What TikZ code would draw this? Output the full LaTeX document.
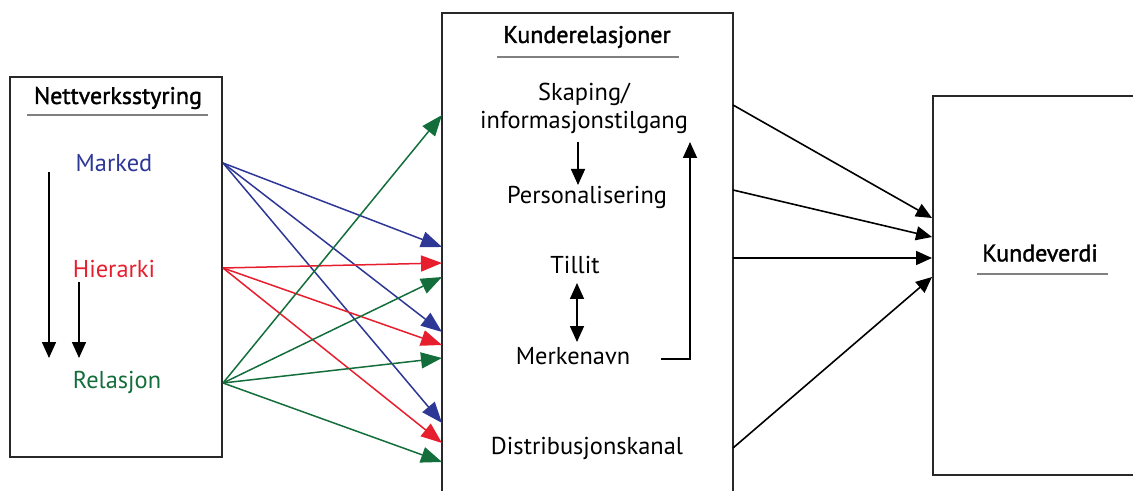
\documentclass[tikz,border=0pt]{standalone}
\usepackage{fontspec}
\setmainfont{PT Sans}
\usetikzlibrary{arrows.meta}
\definecolor{cblue}{RGB}{45,55,150}
\definecolor{cred}{RGB}{230,30,45}
\definecolor{cgreen}{RGB}{20,110,60}
\definecolor{cline}{RGB}{40,40,40}
\begin{document}
\begin{tikzpicture}[x=0.5pt,y=-0.5pt,
  txt/.style={inner sep=0pt,font=\fontsize{12.2}{14}\selectfont},
  ttl/.style={inner sep=0pt,font=\fontsize{12}{14}\selectfont\addfontfeature{FakeBold=1.5}},
  uline/.style={draw=gray,line width=0.8pt},
  boxline/.style={draw=cline,line width=1pt},
  conn/.style={line width=0.75pt,-{Triangle[length=10.5pt,width=8pt]}},
  blk/.style={line width=0.8pt,-{Triangle[length=8pt,width=7pt]}},
  blk2/.style={line width=0.8pt,{Triangle[length=8pt,width=7pt]}-{Triangle[length=8pt,width=7pt]}}]
\useasboundingbox (0,0) rectangle (1133,491);
% left box
\draw[boxline] (10,77) rectangle (222,457);
\node[ttl] (nt) at (118,98) {Nettverksstyring};
\draw[uline] (27,115) -- (208,115);
\node[txt,text=cblue] (mk) at (114,163) {Marked};
\node[txt,text=cred] (hi) at (114,269) {Hierarki};
\node[txt,text=cgreen] (re) at (117,382) {Relasjon};
\coordinate (la1) at (49,172);
\coordinate (la2) at (49,358);
\coordinate (lb1) at (79,282);
\coordinate (lb2) at (79,358);
\draw[blk] (la1) -- (la2);
\draw[blk] (lb1) -- (lb2);
% middle box
\draw[boxline] (442,500) -- (442,13) -- (733,13) -- (733,500);
\node[ttl] (kr) at (587,37) {Kunderelasjoner};
\draw[uline] (497,57) -- (679,57);
\node[txt,align=center] (sk) at (584,108) {Skaping/\\[0pt]informasjonstilgang};
\node[txt] (pe) at (587,197) {Personalisering};
\node[txt] (ti) at (575,265) {Tillit};
\node[txt] (me) at (573,356) {Merkenavn};
\node[txt] (di) at (587,448) {Distribusjonskanal};
\coordinate (d1) at (578,142);
\coordinate (d2) at (578,185);
\draw[blk] (d1) -- (d2);
\coordinate (t1) at (577,283);
\coordinate (t2) at (577,342);
\draw[blk2] (t1) -- (t2);
\coordinate (mr) at (661,359);
\coordinate (mc) at (690,359);
\coordinate (mt) at (690,142);
\draw[blk] (mr) -- (mc) -- (mt);
% connectors left -> middle
\coordinate (ms) at (223,163);
\coordinate (hs) at (223,268);
\coordinate (rs) at (223,383);
\foreach \y in {247,332,423} \draw[conn,cblue] (ms) -- (442,\y);
\foreach \y in {263,345,443} \draw[conn,cred] (hs) -- (442,\y);
\foreach \y in {115,277,358,462} \draw[conn,cgreen] (rs) -- (442,\y);
% right box
\draw[boxline] (1140,96) -- (933,96) -- (933,475) -- (1140,475);
\node[ttl] (kv) at (1040,253) {Kundeverdi};
\draw[uline] (977,274) -- (1108,274);
\coordinate (r1) at (733,105);
\coordinate (r2) at (733,190);
\coordinate (r3) at (733,258);
\coordinate (r4) at (733,448);
\draw[blk] (r1) -- (932,218);
\draw[blk] (r2) -- (932,237);
\draw[blk] (r3) -- (932,258);
\draw[blk] (r4) -- (932,277);
\end{tikzpicture}
\end{document}
